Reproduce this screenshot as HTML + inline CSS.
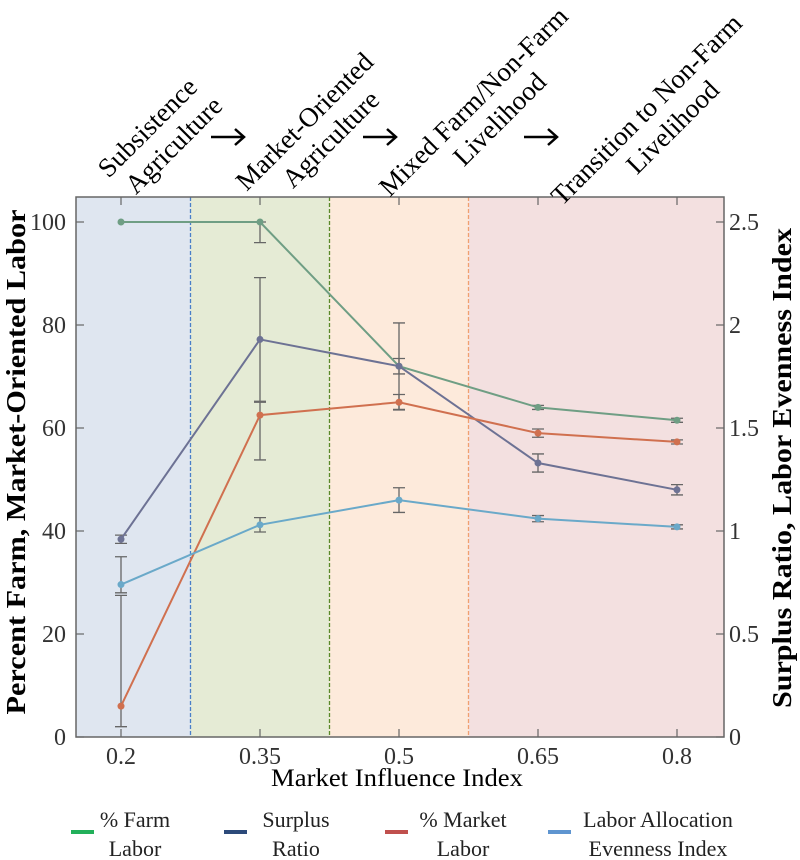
<!DOCTYPE html>
<html><head><meta charset="utf-8"><style>
body{margin:0;background:#fff}
svg{display:block;font-family:"Liberation Serif",serif}
</style></head><body>
<svg id="chart" width="800" height="860" viewBox="0 0 800 860" xmlns="http://www.w3.org/2000/svg">
<g id="bg"></g>
<g id="marks"></g>
<g id="axes"></g>
</svg>
<script>
const categories=[0.2,0.35,0.5,0.65,0.8];
const farmVals=[100,100,72,64,61.5];
const farmLo=[0,4,1.5,0.4,0.4];
const farmHi=[0,0,1.5,0.4,0.4];
const surplusVals=[0.96,1.93,1.8,1.33,1.2];
const surplusLo=[0.02,0.3,0.21,0.044,0.025];
const surplusHi=[0.02,0.3,0.21,0.044,0.025];
const marketVals=[6,62.5,65,59,57.3];
const marketLo=[4,8.7,1.5,0.8,0.4];
const marketHi=[21.5,2.5,1.5,0.8,0.4];
const evenVals=[0.74,1.03,1.15,1.06,1.02];
const evenLo=[0.04,0.035,0.06,0.015,0.01];
const evenHi=[0.135,0.035,0.06,0.015,0.01];
const phaseBounds=[0.275,0.425,0.575];
const leftTicks=[0,20,40,60,80,100];
const rightTicks=[0,0.5,1,1.5,2,2.5];
const rightTickLabels=["0","0.5","1","1.5","2","2.5"];
const xTickLabels=["0.2","0.35","0.5","0.65","0.8"];

const L=76,R=724,T=197,B=737;
const xs=v=>121+(v-0.2)*(556/0.6);
const yl=v=>B-(v/100)*515;
const yr=v=>B-(v/2.5)*515;
const NS="http://www.w3.org/2000/svg";
function mk(tag,attrs,parent,text){const e=document.createElementNS(NS,tag);for(const k in attrs)e.setAttribute(k,attrs[k]);if(text!==undefined)e.textContent=text;parent.appendChild(e);return e;}
const bg=document.getElementById('bg'),marks=document.getElementById('marks'),axes=document.getElementById('axes');

const edges=[L,xs(phaseBounds[0]),xs(phaseBounds[1]),xs(phaseBounds[2]),R];
const bgCols=["#dfe6f0","#e5ebd5","#fdeadb","#f3e0e0"];
const dashCols=["#4a7fc8","#5a8a2a","#f0a070"];
const phaseNames=["phase-subsistence","phase-market-oriented","phase-mixed","phase-transition"];
for(let i=0;i<4;i++){
 const r=mk('rect',{x:edges[i],y:T,width:edges[i+1]-edges[i],height:B-T,fill:bgCols[i]},bg);
 
 
}
for(let i=0;i<3;i++){
 const l=mk('line',{x1:edges[i+1],x2:edges[i+1],y1:T,y2:B,stroke:dashCols[i],'stroke-width':1.3,'stroke-dasharray':'4,2'},bg);
 
 
}

function series(name,vals,lo,hi,ys,col){
 const g=mk('g',{},marks);
 
 
 for(let i=0;i<vals.length;i++){
  if(lo[i]>0||hi[i]>0){
   const x=xs(categories[i]),y1=ys(vals[i]-lo[i]),y2=ys(vals[i]+hi[i]);
   const eb=mk('path',{d:`M${x},${y1}V${y2}M${x-6},${y1}H${x+6}M${x-6},${y2}H${x+6}`,stroke:'#666',fill:'none','stroke-width':1.3},g);
   
   
  }
 }
 const pts=vals.map((v,i)=>xs(categories[i])+','+ys(v)).join(' ');
 const pl=mk('polyline',{points:pts,fill:'none',stroke:col,'stroke-width':2},g);
 
 
 vals.forEach((v,i)=>{
  const c=mk('circle',{cx:xs(categories[i]),cy:ys(v),r:3.5,fill:col},g);
  
  
 });
}
series('farm-labor',farmVals,farmLo,farmHi,yl,'#6f9e84');
series('surplus-ratio',surplusVals,surplusLo,surplusHi,yr,'#6d7294');
series('market-labor',marketVals,marketLo,marketHi,yl,'#d0704f');
series('evenness-index',evenVals,evenLo,evenHi,yr,'#6aa9c9');

const fr=mk('rect',{x:L,y:T,width:R-L,height:B-T,fill:'none',stroke:'#666','stroke-width':1.5},axes);


leftTicks.forEach(v=>{
 const y=yl(v);
 const t=mk('line',{x1:L,x2:L+8,y1:y,y2:y,stroke:'#666','stroke-width':1.2},axes);
 
 
 const tx=mk('text',{x:L-10,y:y+8,'text-anchor':'end','font-size':24,fill:'#333'},axes,String(v));
 
 
});
rightTicks.forEach((v,i)=>{
 const y=yr(v);
 const t=mk('line',{x1:R-8,x2:R,y1:y,y2:y,stroke:'#666','stroke-width':1.2},axes);
 
 
 const tx=mk('text',{x:R+5,y:y+8,'text-anchor':'start','font-size':24,fill:'#333'},axes,rightTickLabels[i]);
 
 
});
categories.forEach((c,i)=>{
 const x=xs(c);
 const t=mk('path',{d:`M${x},${B}V${B-8}M${x},${T}V${T+8}`,stroke:'#666','stroke-width':1.2},axes);
 
 
 const tx=mk('text',{x:x,y:764,'text-anchor':'middle','font-size':24,fill:'#333'},axes,xTickLabels[i]);
 
 
});
</script>
<svg style="position:absolute;left:0;top:0" width="800" height="860">
<text x="397" y="786" text-anchor="middle" font-size="25" font-family="Liberation Serif" textLength="252" lengthAdjust="spacingAndGlyphs">Market Influence Index</text>
<text transform="translate(25,462) rotate(-90)" text-anchor="middle" font-size="27" font-weight="bold" font-family="Liberation Serif" textLength="505" lengthAdjust="spacingAndGlyphs">Percent Farm, Market-Oriented Labor</text>
<text transform="translate(791,468) rotate(-90)" text-anchor="middle" font-size="27" font-weight="bold" font-family="Liberation Serif" textLength="480" lengthAdjust="spacingAndGlyphs">Surplus Ratio, Labor Evenness Index</text>
<g font-size="27" font-family="Liberation Serif" text-anchor="middle">
<g transform="translate(158,138) rotate(-45)"><text y="-6">Subsistence</text><text x="6" y="25">Agriculture</text></g>
<g transform="translate(315,132) rotate(-45)"><text y="-6">Market-Oriented</text><text x="6" y="25">Agriculture</text></g>
<g transform="translate(484,112) rotate(-45)"><text y="-6">Mixed Farm/Non-Farm</text><text x="6" y="25">Livelihood</text></g>
<g transform="translate(657,120) rotate(-45)"><text y="-6">Transition to Non-Farm</text><text x="6" y="25">Livelihood</text></g>
</g>
<g stroke="#000" stroke-width="2.5" fill="none">
<path d="M211,137H244M235,129L244,137L235,145"/>
<path d="M363,137H396M387,129L396,137L387,145"/>
<path d="M524,137H557M548,129L557,137L548,145"/>
</g>
<g font-size="22" font-family="Liberation Serif" text-anchor="middle" fill="#222">
<g><rect x="71" y="830" width="23" height="4" fill="#22b05a"/><text x="135" y="827">% Farm</text><text x="135" y="856">Labor</text></g>
<g><rect x="224" y="830" width="23" height="4" fill="#2c4a7a"/><text x="296" y="827">Surplus</text><text x="296" y="856">Ratio</text></g>
<g><rect x="385" y="830" width="23" height="4" fill="#c0504d"/><text x="463" y="827">% Market</text><text x="463" y="856">Labor</text></g>
<g><rect x="548" y="830" width="23" height="4" fill="#5f95d0"/><text x="658" y="827">Labor Allocation</text><text x="658" y="856">Evenness Index</text></g>
</g>
</svg>
</body></html>
